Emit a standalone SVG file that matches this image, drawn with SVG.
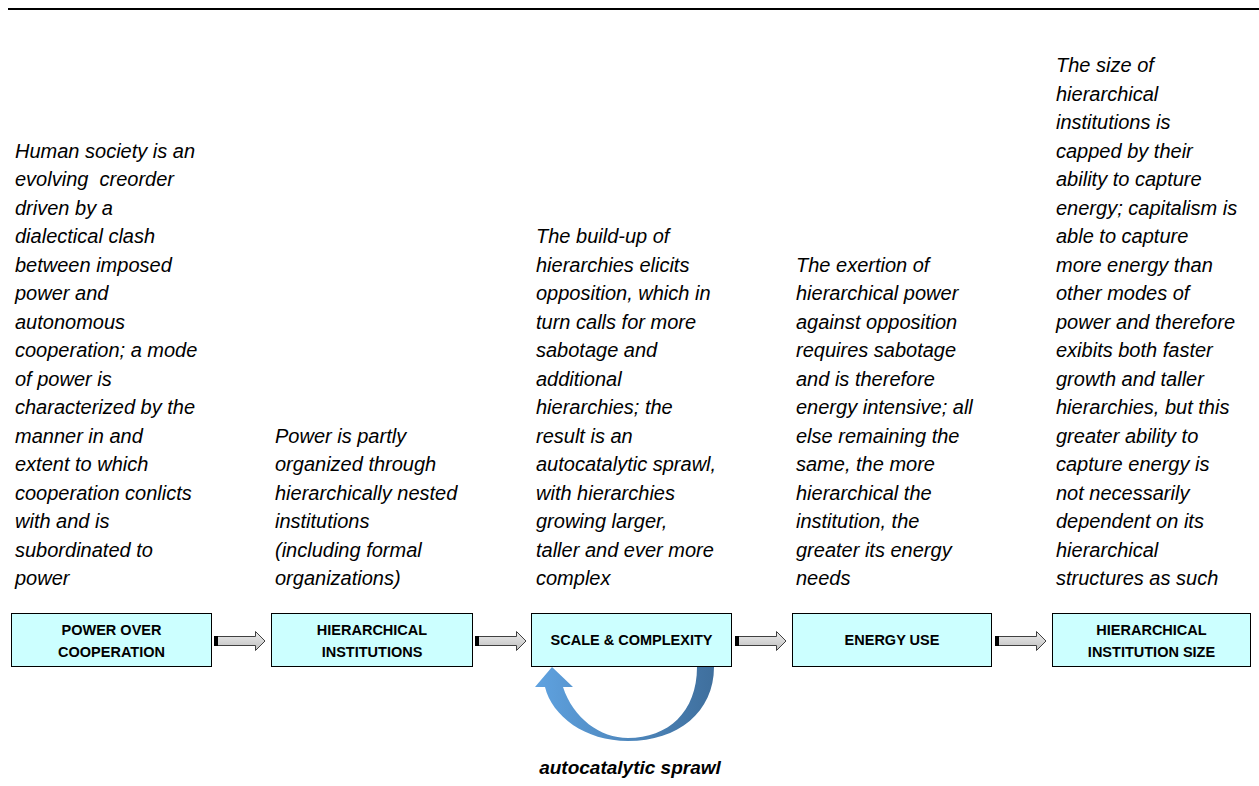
<svg xmlns="http://www.w3.org/2000/svg" width="1259" height="786" viewBox="0 0 1259 786">
<defs>
<style>
.desc{font-family:"Liberation Sans",Arial,sans-serif;font-style:italic;font-size:20px;fill:#000}
.lbl{font-family:"Liberation Sans",Arial,sans-serif;font-weight:bold;font-size:14.5px;fill:#000;text-anchor:middle}
.box{fill:#CCFFFF;stroke:#000;stroke-width:1}
.barrow{fill:url(#greyGrad);stroke:#404040;stroke-width:1}
.cap{fill:#000}
</style>
<linearGradient id="greyGrad" x1="0" y1="0" x2="0" y2="1">
<stop offset="0" stop-color="#EDEDED"/>
<stop offset="1" stop-color="#BFBFBF"/>
</linearGradient>
<linearGradient id="blueGrad" x1="0" y1="0" x2="1" y2="0">
<stop offset="0" stop-color="#5FA2E0"/>
<stop offset="1" stop-color="#3F6F9D"/>
</linearGradient>
</defs>
<rect x="0" y="0" width="1259" height="786" fill="#FFFFFF"/>
<line x1="8" y1="9" x2="1259" y2="9" stroke="#000" stroke-width="2"/>

<g id="text-col1">
<text class="desc" x="15" y="157.5" style="white-space:pre">
<tspan x="15" y="157.5">Human society is an</tspan>
<tspan x="15" dy="28.5">evolving  creorder</tspan>
<tspan x="15" dy="28.5">driven by a</tspan>
<tspan x="15" dy="28.5">dialectical clash</tspan>
<tspan x="15" dy="28.5">between imposed</tspan>
<tspan x="15" dy="28.5">power and</tspan>
<tspan x="15" dy="28.5">autonomous</tspan>
<tspan x="15" dy="28.5">cooperation; a mode</tspan>
<tspan x="15" dy="28.5">of power is</tspan>
<tspan x="15" dy="28.5">characterized by the</tspan>
<tspan x="15" dy="28.5">manner in and</tspan>
<tspan x="15" dy="28.5">extent to which</tspan>
<tspan x="15" dy="28.5">cooperation conlicts</tspan>
<tspan x="15" dy="28.5">with and is</tspan>
<tspan x="15" dy="28.5">subordinated to</tspan>
<tspan x="15" dy="28.5">power</tspan>
</text>
</g>

<g id="text-col2">
<text class="desc">
<tspan x="275" y="442.5">Power is partly</tspan>
<tspan x="275" dy="28.5">organized through</tspan>
<tspan x="275" dy="28.5">hierarchically nested</tspan>
<tspan x="275" dy="28.5">institutions</tspan>
<tspan x="275" dy="28.5">(including formal</tspan>
<tspan x="275" dy="28.5">organizations)</tspan>
</text>
</g>

<g id="text-col3">
<text class="desc">
<tspan x="536" y="243">The build-up of</tspan>
<tspan x="536" dy="28.5">hierarchies elicits</tspan>
<tspan x="536" dy="28.5">opposition, which in</tspan>
<tspan x="536" dy="28.5">turn calls for more</tspan>
<tspan x="536" dy="28.5">sabotage and</tspan>
<tspan x="536" dy="28.5">additional</tspan>
<tspan x="536" dy="28.5">hierarchies; the</tspan>
<tspan x="536" dy="28.5">result is an</tspan>
<tspan x="536" dy="28.5">autocatalytic sprawl,</tspan>
<tspan x="536" dy="28.5">with hierarchies</tspan>
<tspan x="536" dy="28.5">growing larger,</tspan>
<tspan x="536" dy="28.5">taller and ever more</tspan>
<tspan x="536" dy="28.5">complex</tspan>
</text>
</g>

<g id="text-col4">
<text class="desc">
<tspan x="796" y="271.5">The exertion of</tspan>
<tspan x="796" dy="28.5">hierarchical power</tspan>
<tspan x="796" dy="28.5">against opposition</tspan>
<tspan x="796" dy="28.5">requires sabotage</tspan>
<tspan x="796" dy="28.5">and is therefore</tspan>
<tspan x="796" dy="28.5">energy intensive; all</tspan>
<tspan x="796" dy="28.5">else remaining the</tspan>
<tspan x="796" dy="28.5">same, the more</tspan>
<tspan x="796" dy="28.5">hierarchical the</tspan>
<tspan x="796" dy="28.5">institution, the</tspan>
<tspan x="796" dy="28.5">greater its energy</tspan>
<tspan x="796" dy="28.5">needs</tspan>
</text>
</g>

<g id="text-col5">
<text class="desc">
<tspan x="1056" y="72">The size of</tspan>
<tspan x="1056" dy="28.5">hierarchical</tspan>
<tspan x="1056" dy="28.5">institutions is</tspan>
<tspan x="1056" dy="28.5">capped by their</tspan>
<tspan x="1056" dy="28.5">ability to capture</tspan>
<tspan x="1056" dy="28.5">energy; capitalism is</tspan>
<tspan x="1056" dy="28.5">able to capture</tspan>
<tspan x="1056" dy="28.5">more energy than</tspan>
<tspan x="1056" dy="28.5">other modes of</tspan>
<tspan x="1056" dy="28.5">power and therefore</tspan>
<tspan x="1056" dy="28.5">exibits both faster</tspan>
<tspan x="1056" dy="28.5">growth and taller</tspan>
<tspan x="1056" dy="28.5">hierarchies, but this</tspan>
<tspan x="1056" dy="28.5">greater ability to</tspan>
<tspan x="1056" dy="28.5">capture energy is</tspan>
<tspan x="1056" dy="28.5">not necessarily</tspan>
<tspan x="1056" dy="28.5">dependent on its</tspan>
<tspan x="1056" dy="28.5">hierarchical</tspan>
<tspan x="1056" dy="28.5">structures as such</tspan>
</text>
</g>

<g id="node-power-over-cooperation">
<rect class="box" x="11.5" y="613.5" width="200" height="53"/>
<text class="lbl"><tspan x="111.5" y="635">POWER OVER</tspan><tspan x="111.5" y="657">COOPERATION</tspan></text>
</g>
<g id="node-hierarchical-institutions">
<rect class="box" x="271.5" y="613.5" width="201" height="53"/>
<text class="lbl"><tspan x="372" y="635">HIERARCHICAL</tspan><tspan x="372" y="657">INSTITUTIONS</tspan></text>
</g>
<g id="node-scale-complexity">
<rect class="box" x="531.5" y="613.5" width="200" height="53"/>
<text class="lbl" x="631.5" y="645">SCALE &amp; COMPLEXITY</text>
</g>
<g id="node-energy-use">
<rect class="box" x="792.5" y="613.5" width="199" height="53"/>
<text class="lbl" x="892" y="645">ENERGY USE</text>
</g>
<g id="node-hierarchical-institution-size">
<rect class="box" x="1052.5" y="613.5" width="198" height="53"/>
<text class="lbl"><tspan x="1151.5" y="635">HIERARCHICAL</tspan><tspan x="1151.5" y="657">INSTITUTION SIZE</tspan></text>
</g>

<g id="connectors">
<g id="arrow-1">
<path class="barrow" d="M214.5,636.5 H255.5 V631.5 L265,641 L255.5,650.5 V645.5 H214.5 Z"/>
<rect class="cap" x="214" y="636" width="4" height="10"/>
</g>
<g id="arrow-2">
<path class="barrow" d="M475.5,636.5 H516.5 V631.5 L526,641 L516.5,650.5 V645.5 H475.5 Z"/>
<rect class="cap" x="475" y="636" width="4" height="10"/>
</g>
<g id="arrow-3">
<path class="barrow" d="M735.5,636.5 H776.5 V631.5 L786,641 L776.5,650.5 V645.5 H735.5 Z"/>
<rect class="cap" x="735" y="636" width="4" height="10"/>
</g>
<g id="arrow-4">
<path class="barrow" d="M995.5,636.5 H1036.5 V631.5 L1046,641 L1036.5,650.5 V645.5 H995.5 Z"/>
<rect class="cap" x="995" y="636" width="4" height="10"/>
</g>
<g id="loop-autocatalytic">
<path fill="url(#blueGrad)" d="M697,667 L714,667 C714,712 678,741 628,741 C585,741 552,716 545,687 L535,687 L552,667 L573,687 L563,687 C573,718 600,738 628,738 C668,738 697,712 697,667 Z"/>
</g>
<text x="630" y="774" style="font-family:'Liberation Sans',Arial,sans-serif;font-weight:bold;font-style:italic;font-size:19px;text-anchor:middle">autocatalytic sprawl</text>
</g>
</svg>
